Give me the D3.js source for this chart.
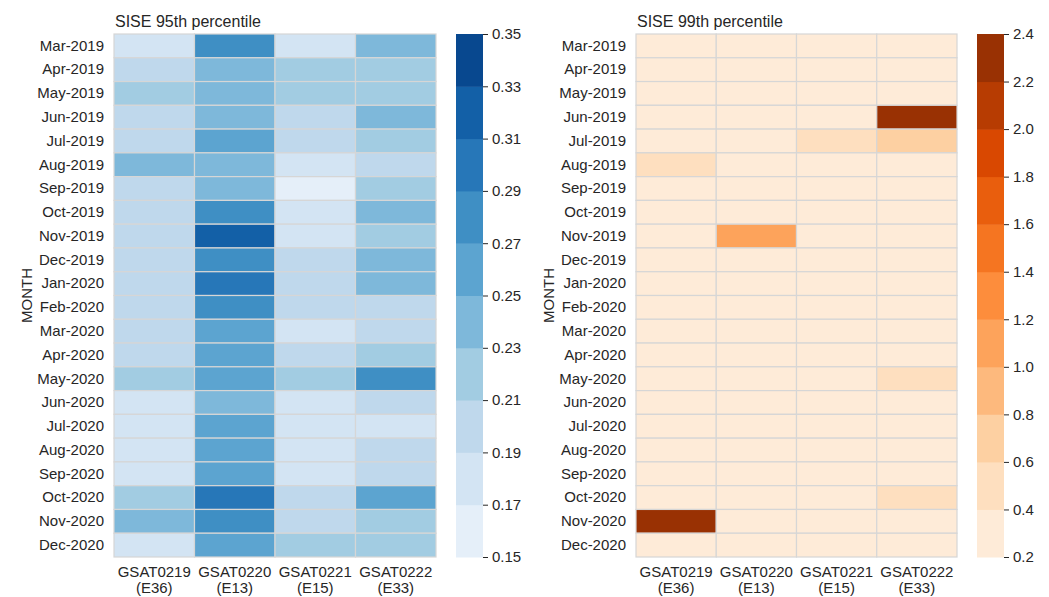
<!DOCTYPE html>
<html>
<head>
<meta charset="utf-8">
<script src="https://cdn.jsdelivr.net/npm/d3@7"></script>
<style>
  body { margin: 0; background: #fff; }
  text { font-family: "Liberation Sans", Arial, sans-serif; fill: #262626; }
</style>
</head>
<body>
<div id="chart"></div>
<script>
const months = ["Mar-2019", "Apr-2019", "May-2019", "Jun-2019", "Jul-2019", "Aug-2019",
  "Sep-2019", "Oct-2019", "Nov-2019", "Dec-2019", "Jan-2020", "Feb-2020", "Mar-2020",
  "Apr-2020", "May-2020", "Jun-2020", "Jul-2020", "Aug-2020", "Sep-2020", "Oct-2020",
  "Nov-2020", "Dec-2020"];
const satellites = ["GSAT0219", "GSAT0220", "GSAT0221", "GSAT0222"];
const svids = ["(E36)", "(E13)", "(E15)", "(E33)"];

// one row per month, one column per satellite
const sise95 = [
  [0.18, 0.28, 0.18, 0.24],
  [0.20, 0.24, 0.22, 0.22],
  [0.22, 0.24, 0.22, 0.22],
  [0.20, 0.24, 0.20, 0.24],
  [0.20, 0.26, 0.20, 0.22],
  [0.24, 0.24, 0.18, 0.20],
  [0.20, 0.24, 0.16, 0.22],
  [0.20, 0.28, 0.18, 0.24],
  [0.20, 0.32, 0.18, 0.22],
  [0.20, 0.28, 0.20, 0.24],
  [0.20, 0.30, 0.20, 0.24],
  [0.20, 0.28, 0.20, 0.20],
  [0.20, 0.26, 0.18, 0.20],
  [0.20, 0.26, 0.20, 0.22],
  [0.22, 0.26, 0.22, 0.28],
  [0.18, 0.24, 0.18, 0.20],
  [0.18, 0.26, 0.18, 0.18],
  [0.18, 0.26, 0.18, 0.20],
  [0.18, 0.26, 0.18, 0.20],
  [0.22, 0.30, 0.20, 0.26],
  [0.24, 0.28, 0.20, 0.22],
  [0.18, 0.26, 0.22, 0.22]
];
const sise99 = [
  [0.30, 0.30, 0.30, 0.30],
  [0.30, 0.30, 0.30, 0.30],
  [0.30, 0.30, 0.30, 0.30],
  [0.30, 0.30, 0.30, 2.30],
  [0.30, 0.30, 0.50, 0.70],
  [0.50, 0.30, 0.30, 0.30],
  [0.30, 0.30, 0.30, 0.30],
  [0.30, 0.30, 0.30, 0.30],
  [0.30, 1.10, 0.30, 0.30],
  [0.30, 0.30, 0.30, 0.30],
  [0.30, 0.30, 0.30, 0.30],
  [0.30, 0.30, 0.30, 0.30],
  [0.30, 0.30, 0.30, 0.30],
  [0.30, 0.30, 0.30, 0.30],
  [0.30, 0.30, 0.30, 0.50],
  [0.30, 0.30, 0.30, 0.30],
  [0.30, 0.30, 0.30, 0.30],
  [0.30, 0.30, 0.30, 0.30],
  [0.30, 0.30, 0.30, 0.30],
  [0.30, 0.30, 0.30, 0.50],
  [2.30, 0.30, 0.30, 0.30],
  [0.30, 0.30, 0.30, 0.30]
];
const ticks95 = [0.15, 0.17, 0.19, 0.21, 0.23, 0.25, 0.27, 0.29, 0.31, 0.33, 0.35];
const ticks99 = [0.2, 0.4, 0.6, 0.8, 1.0, 1.2, 1.4, 1.6, 1.8, 2.0, 2.2, 2.4];

// matplotlib Blues / Oranges stops
const bluesStops = ["#f7fbff", "#deebf7", "#c6dbef", "#9ecae1", "#6baed6", "#4292c6", "#2171b5", "#08519c", "#08306b"];
const orangesStops = ["#fff5eb", "#fee6ce", "#fdd0a2", "#fdae6b", "#fd8d3c", "#f16913", "#d94801", "#a63603", "#7f2704"];

function palette(stops, n) {
  let cmap = d3.scaleLinear().domain(d3.range(stops.length).map(i => i / (stops.length - 1))).range(stops).interpolate(d3.interpolateRgb);
  return d3.range(n).map(i => cmap((i + 1) / (n + 1)));
}

const width = 1049;
const height = 597;
const plotTop = 34;
const plotBottom = 557;
const fontSize = "15px";

let svg = d3.select("#chart").append("svg").attr("width", width).attr("height", height);
svg.append("rect").attr("width", width).attr("height", height).attr("fill", "#fff");

function heatmap(left, right, cbLeft, values, ticks, stops, title, fmt) {
  let g = svg.append("g");
  let x = d3.scaleBand().domain(satellites).range([left, right]);
  let y = d3.scaleBand().domain(months).range([plotTop, plotBottom]);
  let nBins = ticks.length - 1;
  let colors = palette(stops, nBins);
  let color = d3.scaleQuantize().domain([ticks[0], ticks[nBins]]).range(colors);

  let cells = [];
  values.forEach((row, i) => row.forEach((v, j) => cells.push({ m: months[i], s: satellites[j], v: v })));
  g.selectAll("rect.cell").data(cells).join("rect")
    .attr("class", "cell")
    .attr("x", d => x(d.s))
    .attr("y", d => y(d.m))
    .attr("width", x.bandwidth())
    .attr("height", y.bandwidth())
    .attr("fill", d => color(d.v))
    .attr("stroke", "#d6d6d6")
    .attr("stroke-width", 1.2);

  let yAxis = g.append("g").attr("transform", `translate(${left},0)`)
    .call(d3.axisLeft(y).tickSize(0).tickPadding(10));
  yAxis.select(".domain").remove();
  yAxis.selectAll("text").style("font-size", fontSize).attr("fill", "#262626");

  let xAxis = g.append("g").attr("transform", `translate(0,${plotBottom})`)
    .call(d3.axisBottom(x).tickSize(0).tickPadding(10));
  xAxis.select(".domain").remove();
  xAxis.selectAll("text").each(function (d, i) {
    let t = d3.select(this).text(null).attr("dy", null).attr("y", 20)
      .style("font-size", fontSize).attr("fill", "#262626");
    t.append("tspan").attr("x", 0).text(d);
    t.append("tspan").attr("x", 0).attr("dy", 16).text(svids[i]);
  });

  g.append("text")
    .attr("x", -(plotTop + plotBottom) / 2)
    .attr("y", left - 88)
    .attr("transform", "rotate(-90)")
    .attr("text-anchor", "middle")
    .attr("dominant-baseline", "central")
    .style("font-size", fontSize)
    .text("MONTH");

  g.append("text")
    .attr("x", left + 1)
    .attr("y", 27)
    .style("font-size", "16px")
    .text(title);

  // colorbar
  let cbW = 27;
  let c = d3.scaleLinear().domain([ticks[0], ticks[nBins]]).range([plotBottom, plotTop]);
  g.selectAll("rect.bin").data(d3.range(nBins)).join("rect")
    .attr("class", "bin")
    .attr("x", cbLeft)
    .attr("y", i => c(ticks[i + 1]))
    .attr("width", cbW)
    .attr("height", i => c(ticks[i]) - c(ticks[i + 1]) + 0.5)
    .attr("fill", i => colors[i]);
  let cAxis = g.append("g").attr("transform", `translate(${cbLeft + cbW},0)`)
    .call(d3.axisRight(c).tickValues(ticks).tickFormat(d3.format(fmt)).tickSize(5).tickPadding(4));
  cAxis.select(".domain").remove();
  cAxis.selectAll("line").attr("stroke", "#262626");
  cAxis.selectAll("text").style("font-size", fontSize).attr("fill", "#262626");
}

heatmap(114, 436, 456, sise95, ticks95, bluesStops, "SISE 95th percentile", ".2f");
heatmap(636, 957, 977, sise99, ticks99, orangesStops, "SISE 99th percentile", ".1f");
</script>
</body>
</html>
